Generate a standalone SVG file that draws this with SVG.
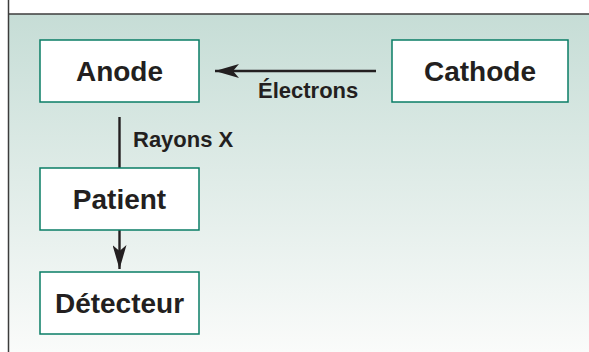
<svg xmlns="http://www.w3.org/2000/svg" width="589" height="352" viewBox="0 0 589 352">
<defs>
<linearGradient id="bg" x1="0" y1="0" x2="0" y2="1">
<stop offset="0" stop-color="#c6ddd6"/>
<stop offset="1" stop-color="#fafbfa"/>
</linearGradient>
<marker id="ah" markerWidth="24" markerHeight="14" refX="24" refY="7" orient="auto" markerUnits="userSpaceOnUse">
<path d="M0,0 L24,7 L0,14 L6,7 Z" fill="#231f20"/>
</marker>
</defs>
<style>
.box{fill:#ffffff;stroke:#0a7d66;stroke-width:1.5}
.lbl{font-family:"Liberation Sans",Arial,sans-serif;font-weight:bold;font-size:28px;fill:#231f20;text-anchor:middle}
.edge{font-family:"Liberation Sans",Arial,sans-serif;font-weight:bold;font-size:22px;fill:#231f20}
.ln{stroke:#231f20;stroke-width:2.4;fill:none}
</style>
<rect x="0" y="0" width="589" height="352" fill="#ffffff"/>
<rect x="8.5" y="14" width="581" height="338" fill="url(#bg)"/>
<line x1="8.5" y1="14" x2="589" y2="14" stroke="#3c3c3c" stroke-width="1.5"/>
<line x1="8.5" y1="0" x2="8.5" y2="352" stroke="#3c3c3c" stroke-width="1.5"/>
<g id="connectors">
<line class="ln" x1="376" y1="71" x2="215" y2="71" marker-end="url(#ah)"/>
<text class="edge" x="258" y="98">Électrons</text>
<line class="ln" x1="119.5" y1="117" x2="119.5" y2="168"/>
<text class="edge" x="133" y="147">Rayons X</text>
<line class="ln" x1="119.5" y1="230" x2="119.5" y2="269" marker-end="url(#ah)"/>
</g>
<g id="anode">
<rect class="box" x="40" y="40" width="159" height="62"/>
<text class="lbl" x="119.5" y="81">Anode</text>
</g>
<g id="cathode">
<rect class="box" x="392" y="40" width="176" height="62"/>
<text class="lbl" x="480" y="81">Cathode</text>
</g>
<g id="patient">
<rect class="box" x="40" y="168" width="159" height="62"/>
<text class="lbl" x="119.5" y="209">Patient</text>
</g>
<g id="detecteur">
<rect class="box" x="40" y="272" width="159" height="62"/>
<text class="lbl" x="119.5" y="313">Détecteur</text>
</g>
</svg>
